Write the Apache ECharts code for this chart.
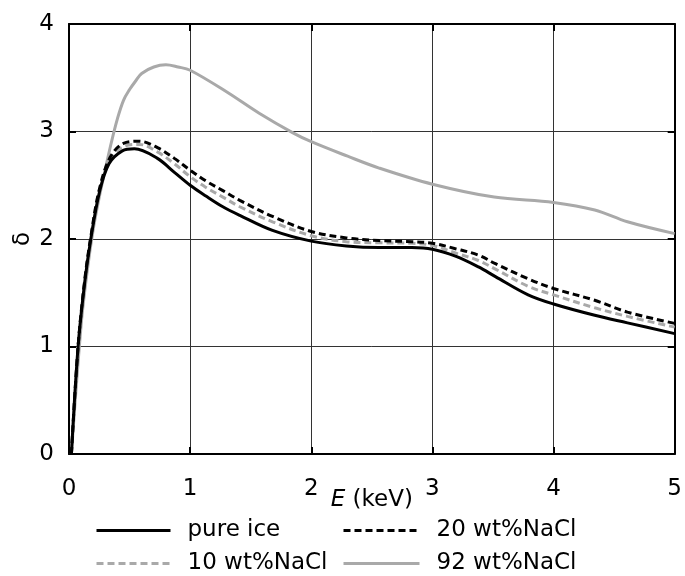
<!DOCTYPE html>
<html>
<head>
<meta charset="utf-8">
<script src="https://cdn.jsdelivr.net/npm/echarts@6/dist/echarts.min.js"></script>
<style>html,body{margin:0;padding:0;background:#fff}#c{width:685px;height:576px}</style>
</head>
<body>
<div id="c"></div>
<script>
// E (keV) grids
var ePure = [0.02,0.075,0.13,0.18,0.25,0.33,0.44,0.54,0.73,0.87,1.0,1.13,1.27,1.41,1.68,2.0,2.29,2.56,2.83,3.0,3.19,3.38,3.52,3.79,4.0,4.34,4.61,5.0];
var dPure = [0,1.0,1.6,2.0,2.43,2.70,2.82,2.84,2.75,2.62,2.50,2.40,2.30,2.22,2.08,1.98,1.935,1.92,1.92,1.905,1.84,1.74,1.65,1.48,1.395,1.29,1.22,1.12];

var eNaCl = [0.02,0.075,0.13,0.18,0.25,0.34,0.45,0.58,0.73,0.87,1.0,1.13,1.27,1.41,1.68,2.0,2.29,2.56,2.83,3.0,3.19,3.38,3.52,3.79,4.0,4.34,4.61,5.0];
var d10 = [0,1.0,1.61,2.01,2.45,2.74,2.86,2.88,2.81,2.70,2.58,2.48,2.39,2.30,2.16,2.03,1.975,1.965,1.96,1.94,1.87,1.80,1.72,1.56,1.48,1.36,1.28,1.18];
var d20 = [0,1.0,1.62,2.02,2.46,2.76,2.89,2.91,2.85,2.75,2.64,2.54,2.45,2.36,2.21,2.07,2.01,1.985,1.975,1.96,1.91,1.85,1.77,1.63,1.54,1.43,1.32,1.215];

var e92 = [0.02,0.1,0.15,0.2,0.25,0.3,0.35,0.4,0.45,0.5,0.55,0.6,0.7,0.8,0.9,1.0,1.3,1.57,1.845,2.0,2.3,2.56,3.0,3.51,4.0,4.34,4.61,5.0];
var d92 = [0,1.2,1.7,2.09,2.39,2.65,2.90,3.12,3.29,3.39,3.47,3.54,3.60,3.62,3.60,3.57,3.37,3.17,2.99,2.905,2.77,2.66,2.51,2.39,2.34,2.27,2.16,2.05];

var names = ['pure ice','10 wt%NaCl','20 wt%NaCl','92 wt%NaCl'];

function pairs(xs, ys){ return xs.map(function(x,i){return [x, ys[i]];}); }

var FONT = 'DejaVu Sans';
var GRAY = '#a9a9a9';

function mkX(pos, main){
  return {
    type:'value', position:pos, min:0, max:5, interval:1,
    axisLine:{show:true, onZero:false, lineStyle:{color:'#000', width:2}},
    axisTick:{show:true, inside:true, length:7, lineStyle:{color:'#000', width:2}},
    axisLabel:{show:main, fontFamily:FONT, fontSize:23, color:'#000', margin:24},
    splitLine:{show:main, lineStyle:{color:'#333', width:1}},
    name: main ? '{i|E} (keV)' : '',
    nameLocation:'middle', nameGap:35, nameMoveOverlap:false,
    nameTextStyle:{fontFamily:FONT, fontSize:23, color:'#000', rich:{i:{fontFamily:FONT, fontSize:23, fontStyle:'italic', color:'#000'}}}
  };
}
function mkY(pos, main){
  return {
    type:'value', position:pos, min:0, max:4, interval:1,
    axisLine:{show:true, onZero:false, lineStyle:{color:'#000', width:2}},
    axisTick:{show:true, inside:true, length:7, lineStyle:{color:'#000', width:2}},
    axisLabel:{show:main, fontFamily:FONT, fontSize:23, color:'#000', margin:15},
    splitLine:{show:main, lineStyle:{color:'#333', width:1}},
    name: main ? 'δ' : '',
    nameLocation:'middle', nameGap:34, nameRotate:90, nameMoveOverlap:false,
    nameTextStyle:{fontFamily:FONT, fontSize:23, color:'#000'}
  };
}
function mkLegend(name, left, top, w){
  return {
    orient:'horizontal', left:left, top:top, itemWidth:w, itemHeight:14,
    data:[name], itemStyle:{opacity:0}, lineStyle:{width:3},
    textStyle:{fontFamily:FONT, fontSize:23, color:'#000', padding:[0,0,0,12]}
  };
}

var chart = echarts.init(document.getElementById('c'), null, {renderer:'canvas'});
var common = {type:'line', smooth:0.35, symbol:'none'};
chart.setOption({
  animation:false,
  backgroundColor:'#fff',
  grid:{left:69, right:8, top:24, bottom:122},
  xAxis:[mkX('bottom', true), mkX('top', false)],
  yAxis:[mkY('left', true), mkY('right', false)],
  legend:[
    mkLegend(names[0], 90, 514, 74),
    mkLegend(names[1], 90, 547, 74),
    mkLegend(names[2], 337, 514, 76),
    mkLegend(names[3], 337, 547, 76)
  ],
  series:[
    Object.assign({name:names[0], data:pairs(ePure,dPure), z:4,
     lineStyle:{color:'#000', width:3}, itemStyle:{color:'#000'}}, common),
    Object.assign({name:names[1], data:pairs(eNaCl,d10), z:3,
     lineStyle:{color:GRAY, width:3, type:[7,4]}, itemStyle:{color:GRAY}}, common),
    Object.assign({name:names[2], data:pairs(eNaCl,d20), z:5,
     lineStyle:{color:'#000', width:3, type:[7,4]}, itemStyle:{color:'#000'}}, common),
    Object.assign({name:names[3], data:pairs(e92,d92), z:2,
     lineStyle:{color:GRAY, width:3}, itemStyle:{color:GRAY}}, common)
  ]
});
</script>
</body>
</html>
